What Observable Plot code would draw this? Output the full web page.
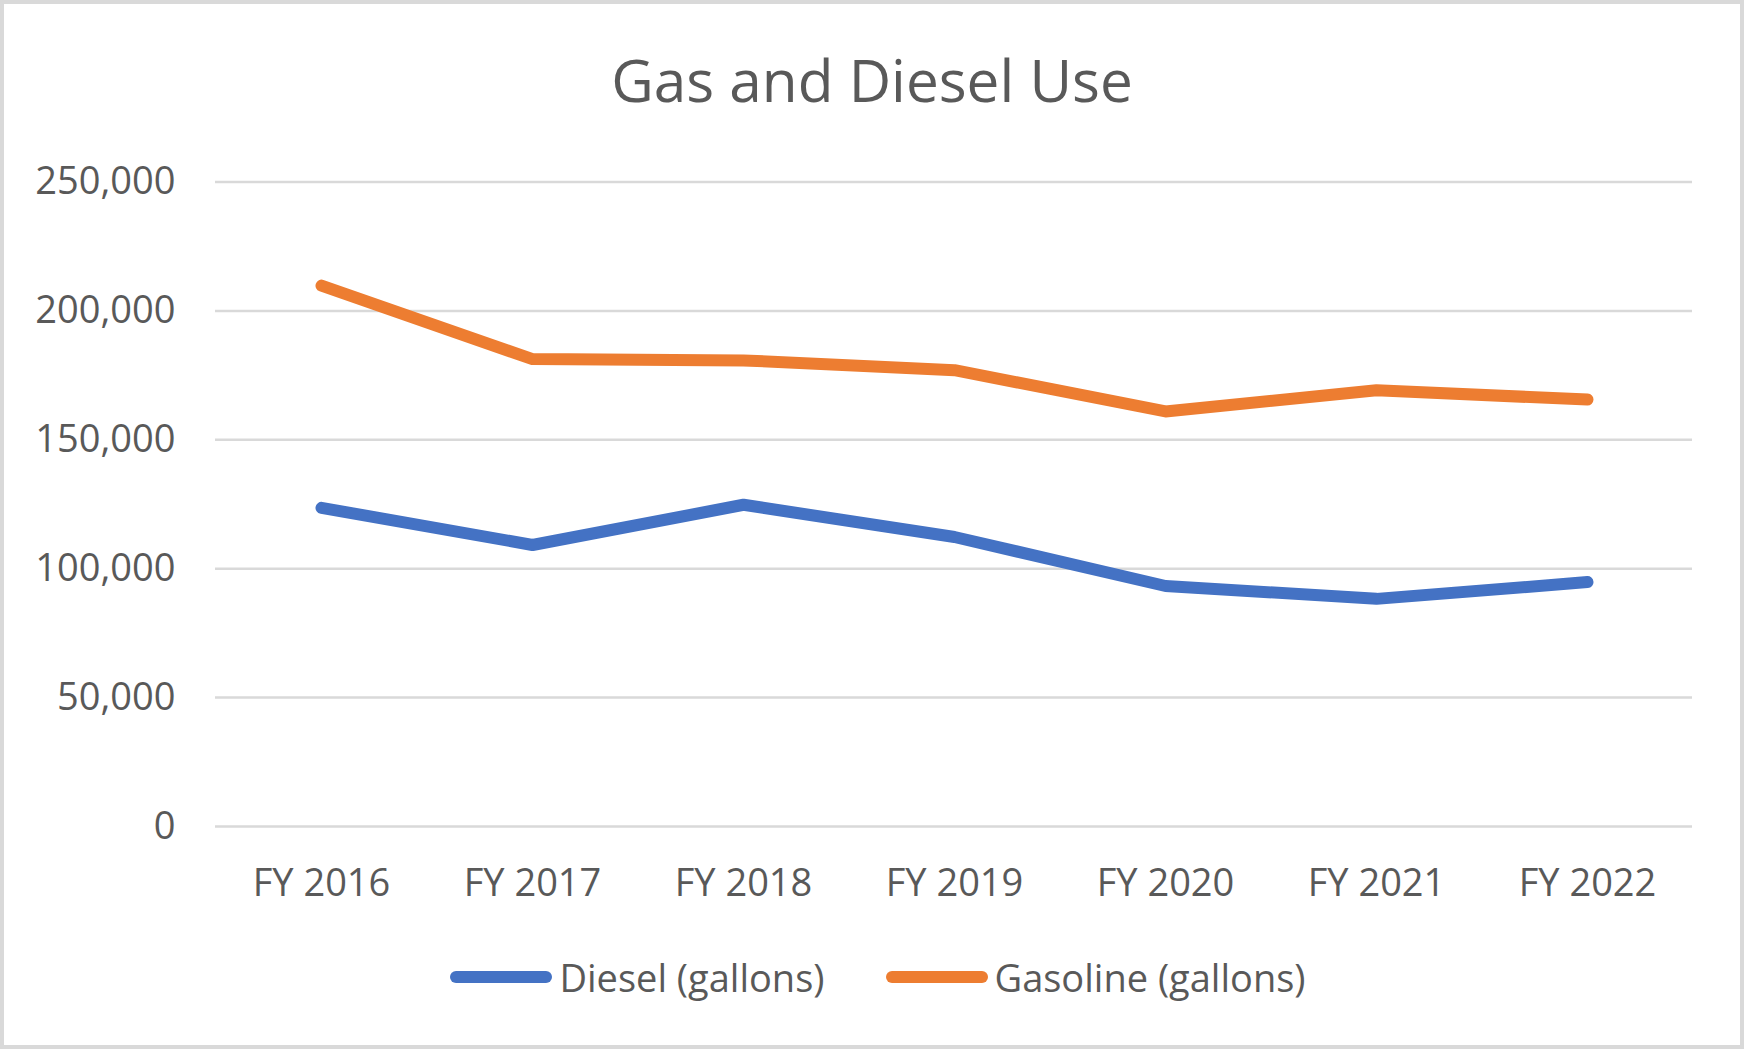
<!DOCTYPE html>
<html>
<head>
<meta charset="utf-8">
<script src="https://cdn.jsdelivr.net/npm/d3@7"></script>
<script src="https://cdn.jsdelivr.net/npm/@observablehq/plot@0.6"></script>
<style>
  html, body { margin: 0; padding: 0; background: #fff; }
  #wrap { position: relative; width: 1744px; height: 1049px; overflow: hidden; background: #fff; font-family: "Open Sans", sans-serif; color: #595959; }
  #frame { position: absolute; left: 0; top: 0; width: 1744px; height: 1049px; box-sizing: border-box; border: 4px solid #d9d9d9; pointer-events: none; }
  #title { position: absolute; left: 0; right: 0; top: 50px; text-align: center; font-size: 58.5px; line-height: 58.5px; color: #595959; }
  #chart { position: absolute; left: 0; top: 140px; }
  #legend { position: absolute; left: 12px; right: 0; top: 958px; display: flex; justify-content: center; align-items: center; font-size: 38px; line-height: 38px; color: #595959; }
  .item { display: flex; align-items: center; }
  .sw { width: 102px; height: 12px; border-radius: 6px; margin-right: 7px; }
</style>
</head>
<body>
<div id="wrap">
  <div id="title">Gas and Diesel Use</div>
  <div id="chart"></div>
  <div id="legend"></div>
  <div id="frame"></div>
</div>
<script>
const categories = ["FY 2016", "FY 2017", "FY 2018", "FY 2019", "FY 2020", "FY 2021", "FY 2022"];
const diesel = [123600, 109200, 124800, 112300, 93300, 88300, 94800];
const gasoline = [209800, 181300, 180800, 177000, 161000, 169200, 165600];
const seriesNames = ["Diesel (gallons)", "Gasoline (gallons)"];
const seriesColors = ["#4472C4", "#ED7D31"];
const yTicks = [0, 50000, 100000, 150000, 200000, 250000];

const rows = [];
[diesel, gasoline].forEach((vals, si) => {
  vals.forEach((v, i) => rows.push({ year: categories[i], series: seriesNames[si], value: v }));
});

const chart = Plot.plot({
  width: 1744,
  height: 786,
  marginLeft: 215,
  marginRight: 52,
  marginTop: 41.5,
  marginBottom: 100,
  style: { fontFamily: "Open Sans", fontSize: "38px", color: "#595959", background: "transparent", overflow: "visible" },
  x: { type: "point", domain: categories, padding: 0.5 },
  y: { domain: [0, 250000] },
  color: { domain: seriesNames, range: seriesColors },
  marks: [
    Plot.gridY(yTicks, { stroke: "#d9d9d9", strokeOpacity: 1, strokeWidth: 2.5 }),
    Plot.axisY(yTicks, { tickSize: 0, tickPadding: 40, tickFormat: d3.format(","), fontSize: 38, label: null }),
    Plot.axisX(categories, { tickSize: 0, tickPadding: 43, fontSize: 38, label: null }),
    Plot.line(rows, { x: "year", y: "value", z: "series", stroke: "series", strokeWidth: 12, strokeLinecap: "round", strokeLinejoin: "round" })
  ]
});
document.getElementById("chart").appendChild(chart);

const legend = document.getElementById("legend");
seriesNames.forEach((name, i) => {
  const item = document.createElement("div");
  item.className = "item";
  if (i > 0) item.style.marginLeft = "61px";
  const sw = document.createElement("div");
  sw.className = "sw";
  sw.style.background = seriesColors[i];
  const t = document.createElement("span");
  t.textContent = name;
  item.appendChild(sw);
  item.appendChild(t);
  legend.appendChild(item);
});
</script>
</body>
</html>
